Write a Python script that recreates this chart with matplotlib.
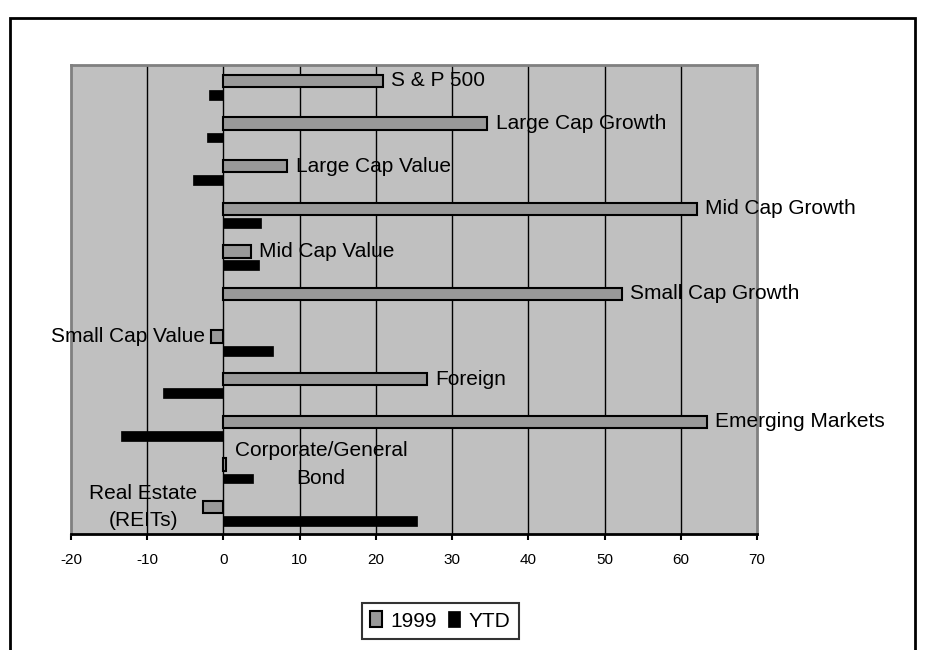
import matplotlib
matplotlib.use("Agg")
import matplotlib.pyplot as plt
from matplotlib.patches import Rectangle
import numpy as np

plt.rcParams['font.family'] = ['Liberation Sans', 'DejaVu Sans']

categories = ['S & P 500', 'Large Cap Growth', 'Large Cap Value', 'Mid Cap Growth',
              'Mid Cap Value', 'Small Cap Growth', 'Small Cap Value', 'Foreign',
              'Emerging Markets', 'Corporate/General\nBond', 'Real Estate\n(REITs)']
ret_1999 = [20.9, 34.6, 8.4, 62.1, 3.6, 52.3, -1.65, 26.7, 63.4, 0.4, -2.7]
ret_ytd = [-1.9, -2.1, -4.0, 4.9, 4.7, 0.0, 6.5, -7.9, -13.4, 3.85, 25.4]
xticks = [-20, -10, 0, 10, 20, 30, 40, 50, 60, 70]

fig = plt.figure(figsize=(9.25, 6.5), dpi=100)
ax = fig.add_axes([71 / 925, 1 - 534 / 650, (757 - 71) / 925, (534 - 65) / 650])
ax.set_facecolor('#C0C0C0')

y = np.arange(len(categories))
b1 = ax.barh(y - 0.13, ret_1999, height=0.29, color='#999999', edgecolor='black',
             linewidth=1.5, label='1999', zorder=3)
b2 = ax.barh(y + 0.2, ret_ytd, height=0.23, color='black', edgecolor='black',
             linewidth=0.5, label='YTD', zorder=3)

# category names sit at the end of the 1999 bar
for i, (name, v) in enumerate(zip(categories, ret_1999)):
    if v >= 0:
        ax.annotate(name, (v, i - 0.13), xytext=(6, 0), textcoords='offset points',
                    ha='left', va='center', multialignment='center', fontsize=15,
                    linespacing=1.55, zorder=4)
    else:
        ax.annotate(name, (v, i - 0.13), xytext=(-4, 0), textcoords='offset points',
                    ha='right', va='center', multialignment='center', fontsize=15,
                    linespacing=1.55, zorder=4)

ax.set_xlim(-20, 70)
ax.set_ylim(len(categories) - 0.5, -0.5)
ax.set_xticks(xticks)
ax.set_xticklabels([str(t) for t in xticks], fontsize=11)
ax.set_yticks([])
ax.tick_params(axis='x', direction='out', length=4, width=1.5, pad=10)
for t in xticks[1:-1]:
    ax.axvline(t, color='black', linewidth=1, zorder=1)

for side in ['left', 'top', 'right']:
    ax.spines[side].set_color('#808080')
    ax.spines[side].set_linewidth(2)
ax.spines['bottom'].set_color('black')
ax.spines['bottom'].set_linewidth(2)

leg = fig.legend(handles=[b1, b2], loc='center', bbox_to_anchor=(440 / 925, 1 - 621 / 650),
                 ncol=2, fontsize=15, frameon=True, fancybox=False, handlelength=0.6,
                 handleheight=0.8, handletextpad=0.4, columnspacing=0.5, borderpad=0.4)
leg.get_frame().set_edgecolor('black')
leg.get_frame().set_linewidth(1.5)

# outer border, open at the bottom
fig.add_artist(Rectangle((10 / 925, -0.1), 905 / 925, 1.1 - 18 / 650, transform=fig.transFigure,
                         fill=False, edgecolor='black', linewidth=2))

fig.savefig('out.png', dpi=100)
